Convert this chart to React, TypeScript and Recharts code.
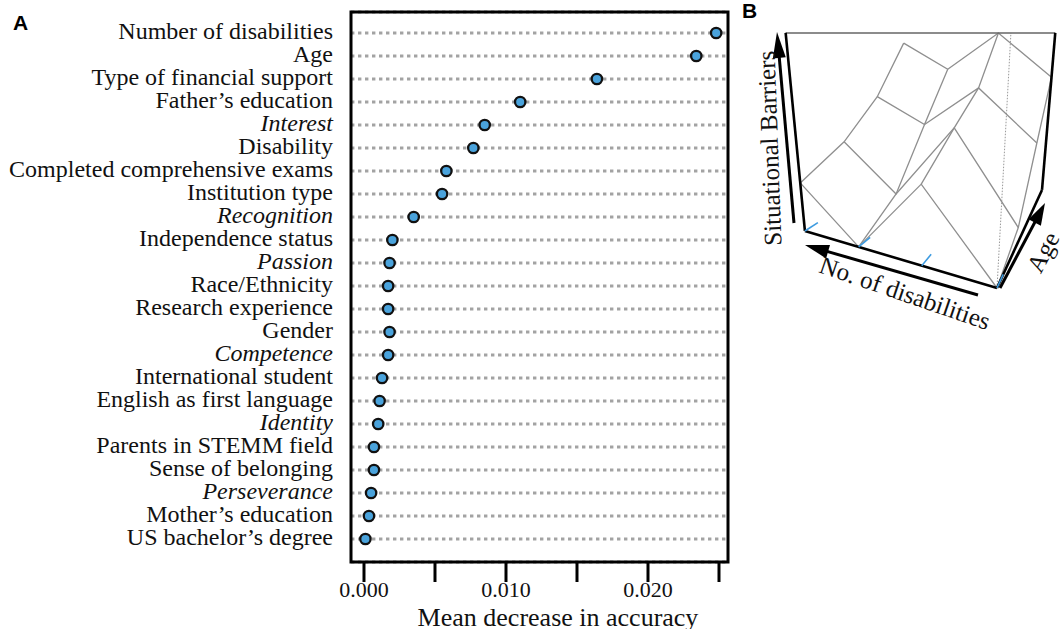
import React from 'react';
import { ScatterChart, Scatter, XAxis, YAxis, CartesianGrid, ReferenceArea } from 'recharts';

// ---------- Panel A data ----------
const features: string[] = [
  'Number of disabilities', 'Age', 'Type of financial support', 'Father\u2019s education', 'Interest',
  'Disability', 'Completed comprehensive exams', 'Institution type', 'Recognition', 'Independence status',
  'Passion', 'Race/Ethnicity', 'Research experience', 'Gender', 'Competence', 'International student',
  'English as first language', 'Identity', 'Parents in STEMM field', 'Sense of belonging', 'Perseverance',
  'Mother\u2019s education', 'US bachelor\u2019s degree',
];
const meanDecrease: number[] = [
  0.0248, 0.0234, 0.0164, 0.0110, 0.0085, 0.0077, 0.0058, 0.0055, 0.0035, 0.0020, 0.0018, 0.0017,
  0.0017, 0.0018, 0.0017, 0.00127, 0.0011, 0.0010, 0.0007, 0.0007, 0.0005, 0.00035, 0.0001,
];
const italicFeatures: string[] = ['Interest', 'Recognition', 'Passion', 'Competence', 'Identity', 'Perseverance'];
const xTicks: number[] = [0, 0.005, 0.01, 0.015, 0.02, 0.025];
const xTickLabels: Record<string, string> = { '0': '0.000', '0.01': '0.010', '0.02': '0.020' };

// ---------- Panel B data (situational barriers surface) ----------
const disabilityLevels: number[] = [0, 1, 2, 3];
const ageLevels: number[] = [0, 1, 2, 3];
const barriersDis0: number[] = [0.0, 0.09, 0.42, 0.74];
const barriersDis1: number[] = [0.39, 0.55, 0.70, 1.0];
const barriersDis2: number[] = [0.0, 0.13, 0.45, 0.76];
const barriersDis3: number[] = [0.27, 0.39, 0.60, 0.93];
const surface = [barriersDis0, barriersDis1, barriersDis2, barriersDis3];

// perspective view (vanishing points of the three box directions, in view-plane units)
const VIEW = {
  vpU: [138, 33], vpV: [1114, 33], vpZ: [930, 1516], origin: [997, 288],
  wU: 0.288, wV: 0.625, wZ: -0.172,
};
function project(u: number, v: number, z: number) {
  const a = VIEW.wU * u, b = VIEW.wV * v, c = VIEW.wZ * z;
  const den = 1 + a + b + c;
  return {
    x: (a * VIEW.vpU[0] + b * VIEW.vpV[0] + c * VIEW.vpZ[0] + VIEW.origin[0]) / den,
    y: (a * VIEW.vpU[1] + b * VIEW.vpV[1] + c * VIEW.vpZ[1] + VIEW.origin[1]) / den,
  };
}
const uOf = (d: number) => d / (disabilityLevels.length - 1);
const vOf = (a: number) => a / (ageLevels.length - 1);

const dotData = features.map((name, i) => ({ x: meanDecrease[i], y: i, name }));

const SERIF = '"Liberation Serif", "Times New Roman", serif';
const SANS = '"Liberation Sans", Arial, sans-serif';

const YTick = (props: any) => {
  const { x, y, payload } = props;
  const name = features[payload.value];
  if (name === undefined) return null;
  return (
    <text x={x} y={y} dy={6} textAnchor="end" fontFamily={SERIF} fontSize={24} fill="#111"
      fontStyle={italicFeatures.includes(name) ? 'italic' : 'normal'}>{name}</text>
  );
};
const XTick = (props: any) => {
  const { x, y, payload } = props;
  const key = String(Math.round(payload.value * 1000) / 1000);
  const label = xTickLabels[key];
  if (!label) return null;
  return (
    <text x={x} y={y} dy={13} textAnchor="middle" fontFamily={SERIF} fontSize={22} fill="#111">{label}</text>
  );
};
const Dot = (props: any) => (
  <circle cx={props.cx} cy={props.cy} r={5.2} fill="#4aa3dc" stroke="#111" strokeWidth={2.3} />
);
const NoShape = () => <g />;

function arrow(x1: number, y1: number, x2: number, y2: number, len: number, w: number) {
  const dx = x2 - x1, dy = y2 - y1, L = Math.hypot(dx, dy);
  const ux = dx / L, uy = dy / L;
  const bx = x2 - ux * len, by = y2 - uy * len;
  const px = -uy, py = ux;
  return (
    <g>
      <line x1={x1} y1={y1} x2={bx + ux * 2} y2={by + uy * 2} stroke="#000" strokeWidth={3} />
      <polygon points={`${x2},${y2} ${bx + px * w / 2},${by + py * w / 2} ${bx - px * w / 2},${by - py * w / 2}`} fill="#000" />
    </g>
  );
}

export default function App() {
  const xDomain: [number, number] = [-0.000915, 0.025634];
  const yDomain: [number, number] = [-0.913, 23.0];

  // surface polylines
  const disLines = disabilityLevels.map((d) => ageLevels.map((a) => project(uOf(d), vOf(a), surface[d][a])));
  const ageLines = ageLevels.map((a) => disabilityLevels.map((d) => project(uOf(d), vOf(a), surface[d][a])));
  const F0 = project(0, 0, 0), L0 = project(1, 0, 0), R0 = project(0, 1, 0);
  const Ft = project(0, 0, 1), Lt = project(1, 0, 1), Rt = project(0, 1, 1);
  const boxThick = [[L0, Lt], [L0, F0], [F0, R0], [R0, Rt]];
  const ticksB = disabilityLevels.map((d) => [project(uOf(d), 0, 0), project(uOf(d), 0.09, 0)]);

  return (
    <div style={{ position: 'absolute', left: 0, top: 0, width: 1062, height: 629, background: '#fff' }}>
      <div style={{ position: 'absolute', left: 0, top: 0 }}>
        <ScatterChart width={740} height={629} margin={{ top: 12, right: 12, bottom: 0, left: 0 }}>
          <CartesianGrid horizontal vertical={false} stroke="#a3a3a3" strokeWidth={3} strokeDasharray="3.4 3.6" />
          <XAxis type="number" dataKey="x" domain={xDomain} ticks={xTicks} allowDataOverflow height={67}
            axisLine={false} tickLine={{ stroke: '#000', strokeWidth: 3 }} tickSize={20} tick={<XTick />} interval={0} />
          <YAxis type="number" dataKey="y" domain={yDomain} reversed allowDataOverflow width={351}
            ticks={features.map((_, i) => i)} interval={0} axisLine={false} tickLine={false} tickSize={0}
            tickMargin={18} tick={<YTick />} />
          <ReferenceArea x1={xDomain[0]} x2={xDomain[1]} y1={yDomain[0]} y2={yDomain[1]} fill="none"
            fillOpacity={0} stroke="#000" strokeWidth={3} ifOverflow="visible" />
          <Scatter data={dotData} shape={<Dot />} isAnimationActive={false} />
        </ScatterChart>
      </div>
      <div style={{ position: 'absolute', left: 740, top: 0 }}>
        <ScatterChart width={322} height={340} margin={{ top: 0, right: 0, bottom: 0, left: 0 }}>
          <XAxis type="number" dataKey="x" domain={[740, 1062]} hide allowDataOverflow />
          <YAxis type="number" dataKey="y" domain={[0, 340]} reversed hide allowDataOverflow />
          {disLines.map((pts, i) => (
            <Scatter key={'d' + i} data={pts} shape={<NoShape />} line={{ stroke: '#8f8f8f', strokeWidth: 1.3 }}
              fill="#8f8f8f" isAnimationActive={false} />
          ))}
          {ageLines.map((pts, i) => (
            <Scatter key={'a' + i} data={pts} shape={<NoShape />} line={{ stroke: '#8f8f8f', strokeWidth: 1.3 }}
              fill="#8f8f8f" isAnimationActive={false} />
          ))}
          <Scatter data={[F0, Ft]} shape={<NoShape />} line={{ stroke: '#999', strokeWidth: 1, strokeDasharray: '1.5 1.5' }}
            fill="#999" isAnimationActive={false} />
          <Scatter data={[Lt, Rt]} shape={<NoShape />} line={{ stroke: '#666', strokeWidth: 1.5 }}
            fill="#666" isAnimationActive={false} />
          {boxThick.map((seg, i) => (
            <Scatter key={'b' + i} data={seg} shape={<NoShape />} line={{ stroke: '#000', strokeWidth: 2.6 }}
              fill="#000" isAnimationActive={false} />
          ))}
          {ticksB.map((seg, i) => (
            <Scatter key={'t' + i} data={seg} shape={<NoShape />} line={{ stroke: '#3d9be0', strokeWidth: 1.6 }}
              fill="#3d9be0" isAnimationActive={false} />
          ))}
        </ScatterChart>
      </div>
      <svg width={1062} height={629} style={{ position: 'absolute', left: 0, top: 0, pointerEvents: 'none' }}>
        <text x={13} y={30} fontFamily={SANS} fontWeight="bold" fontSize={21} fill="#000">A</text>
        <text x={742} y={18} fontFamily={SANS} fontWeight="bold" fontSize={21} fill="#000">B</text>
        <text x={558} y={626} textAnchor="middle" fontFamily={SERIF} fontSize={26} fill="#111">Mean decrease in accuracy</text>
        {arrow(794, 223, 777, 32, 26, 13)}
        {arrow(978, 295, 805, 245, 24, 14)}
        {arrow(1000, 288, 1045, 203, 22, 14)}
        <text x={778} y={148} transform="rotate(-92 778 148)" textAnchor="middle" fontFamily={SERIF} fontSize={25} fill="#111">Situational Barriers</text>
        <text x={905} y={293} transform="rotate(19 905 293)" textAnchor="middle" dominantBaseline="central" fontFamily={SERIF} fontSize={25} fill="#111">No. of disabilities</text>
        <text x={1043} y={252} transform="rotate(-62 1043 252)" textAnchor="middle" dominantBaseline="central" fontFamily={SERIF} fontSize={25} fill="#111">Age</text>
      </svg>
    </div>
  );
}
